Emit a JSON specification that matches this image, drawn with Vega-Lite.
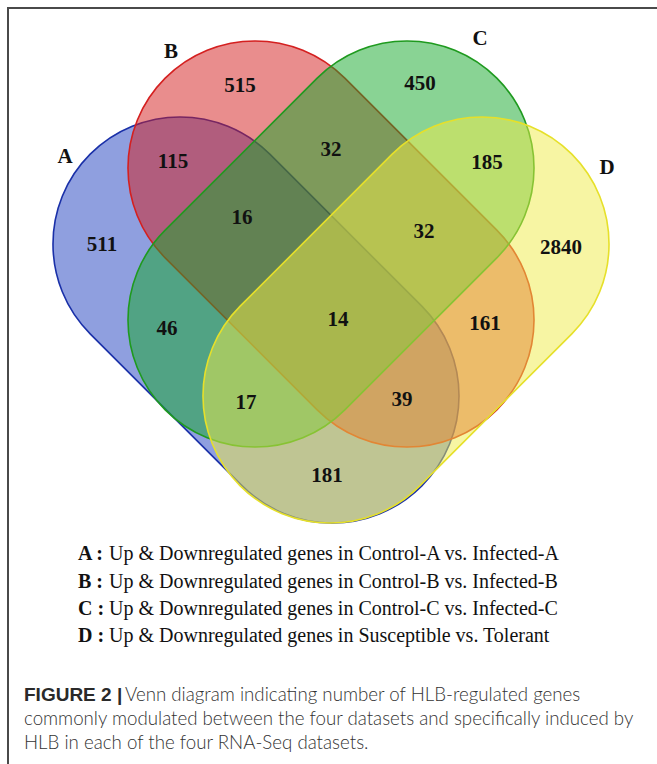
{
  "$schema": "https://vega.github.io/schema/vega-lite/v6.json",
  "width": 657,
  "height": 764,
  "autosize": {"type": "fit", "contains": "padding"},
  "padding": {"left": 8, "top": 8, "right": -4, "bottom": -4},
  "background": "white",
  "config": {"view": {"stroke": "#4a4a4a", "strokeWidth": 2}},
  "datasets": {
    "sets": [
      {"set": "A", "x": 256, "y": 320},
      {"set": "B", "x": 331, "y": 244},
      {"set": "C", "x": 331, "y": 244},
      {"set": "D", "x": 406, "y": 320}
    ],
    "setLabels": [
      {"label": "A", "x": 65, "y": 157},
      {"label": "B", "x": 171, "y": 52},
      {"label": "C", "x": 480, "y": 39},
      {"label": "D", "x": 607, "y": 168}
    ],
    "counts": [
      {"region": "A", "n": 511, "x": 102, "y": 245},
      {"region": "B", "n": 515, "x": 240, "y": 86},
      {"region": "C", "n": 450, "x": 420, "y": 84},
      {"region": "D", "n": 2840, "x": 561, "y": 248},
      {"region": "AB", "n": 115, "x": 173, "y": 162},
      {"region": "BC", "n": 32, "x": 331, "y": 150},
      {"region": "CD", "n": 185, "x": 487, "y": 163},
      {"region": "ABC", "n": 16, "x": 242, "y": 218},
      {"region": "BCD", "n": 32, "x": 424, "y": 232},
      {"region": "AC", "n": 46, "x": 167, "y": 329},
      {"region": "ABCD", "n": 14, "x": 338, "y": 320},
      {"region": "BD", "n": 161, "x": 485, "y": 324},
      {"region": "ACD", "n": 17, "x": 246, "y": 403},
      {"region": "ABD", "n": 39, "x": 402, "y": 400},
      {"region": "AD", "n": 181, "x": 327, "y": 476}
    ],
    "legendKeys": [
      {"text": "A :", "x": 78, "y": 560},
      {"text": "B :", "x": 78, "y": 588},
      {"text": "C :", "x": 78, "y": 615},
      {"text": "D :", "x": 78, "y": 642}
    ],
    "legendText": [
      {"text": "Up & Downregulated genes in Control-A vs. Infected-A", "x": 109, "y": 560},
      {"text": "Up & Downregulated genes in Control-B vs. Infected-B", "x": 109, "y": 588},
      {"text": "Up & Downregulated genes in Control-C vs. Infected-C", "x": 109, "y": 615},
      {"text": "Up & Downregulated genes in Susceptible vs. Tolerant", "x": 109, "y": 642}
    ],
    "captionLead": [
      {"text": "FIGURE 2 |", "x": 24, "y": 701}
    ],
    "caption": [
      {"text": "Venn diagram indicating number of HLB-regulated genes", "x": 125, "y": 701},
      {"text": "commonly modulated between the four datasets and specifically induced by", "x": 24, "y": 725},
      {"text": "HLB in each of the four RNA-Seq datasets.", "x": 24, "y": 749}
    ]
  },
  "encoding": {
    "x": {"field": "x", "type": "quantitative", "scale": {"domain": [8, 661], "nice": false, "zero": false}, "axis": null},
    "y": {"field": "y", "type": "quantitative", "scale": {"domain": [8, 768], "nice": false, "zero": false, "reverse": true}, "axis": null}
  },
  "layer": [
    {
      "data": {"name": "sets"},
      "mark": {"type": "point", "filled": true, "size": 219961, "opacity": 1, "fillOpacity": 0.5, "strokeOpacity": 1, "strokeWidth": 1.6},
      "encoding": {
        "shape": {"field": "set", "type": "nominal", "legend": null, "scale": {"domain": ["A", "B", "C", "D"], "range": [
          "M0.0589,-0.7071L0.7071,-0.0589C0.9186,0.1526,0.9186,0.4955,0.7071,0.7071C0.4955,0.9186,0.1526,0.9186,-0.0589,0.7071L-0.7071,0.0589C-0.9186,-0.1526,-0.9186,-0.4955,-0.7071,-0.7071C-0.4955,-0.9186,-0.1526,-0.9186,0.0589,-0.7071Z",
          "M0.0589,-0.7071L0.7071,-0.0589C0.9186,0.1526,0.9186,0.4955,0.7071,0.7071C0.4955,0.9186,0.1526,0.9186,-0.0589,0.7071L-0.7071,0.0589C-0.9186,-0.1526,-0.9186,-0.4955,-0.7071,-0.7071C-0.4955,-0.9186,-0.1526,-0.9186,0.0589,-0.7071Z",
          "M-0.0589,-0.7071L-0.7071,-0.0589C-0.9186,0.1526,-0.9186,0.4955,-0.7071,0.7071C-0.4955,0.9186,-0.1526,0.9186,0.0589,0.7071L0.7071,0.0589C0.9186,-0.1526,0.9186,-0.4955,0.7071,-0.7071C0.4955,-0.9186,0.1526,-0.9186,-0.0589,-0.7071Z",
          "M-0.0589,-0.7071L-0.7071,-0.0589C-0.9186,0.1526,-0.9186,0.4955,-0.7071,0.7071C-0.4955,0.9186,-0.1526,0.9186,0.0589,0.7071L0.7071,0.0589C0.9186,-0.1526,0.9186,-0.4955,0.7071,-0.7071C0.4955,-0.9186,0.1526,-0.9186,-0.0589,-0.7071Z"
        ]}},
        "fill": {"field": "set", "type": "nominal", "legend": null, "scale": {"domain": ["A", "B", "C", "D"], "range": ["#1f3fbf", "#d41c1c", "#14a82a", "#efeb48"]}},
        "stroke": {"field": "set", "type": "nominal", "legend": null, "scale": {"domain": ["A", "B", "C", "D"], "range": ["#1a30a8", "#d42020", "#1f9a1f", "#e6e02a"]}}
      }
    },
    {
      "data": {"name": "setLabels"},
      "mark": {"type": "text", "font": "Liberation Serif", "fontWeight": "bold", "fontSize": 21, "align": "center", "baseline": "middle", "color": "#111111"},
      "encoding": {"text": {"field": "label", "type": "nominal"}}
    },
    {
      "data": {"name": "counts"},
      "mark": {"type": "text", "font": "Liberation Serif", "fontWeight": "bold", "fontSize": 21, "align": "center", "baseline": "middle", "color": "#111111"},
      "encoding": {"text": {"field": "n", "type": "nominal"}}
    },
    {
      "data": {"name": "legendKeys"},
      "mark": {"type": "text", "font": "Liberation Serif", "fontWeight": "bold", "fontSize": 20, "align": "left", "baseline": "alphabetic", "color": "#111111"},
      "encoding": {"text": {"field": "text", "type": "nominal"}}
    },
    {
      "data": {"name": "legendText"},
      "mark": {"type": "text", "font": "Liberation Serif", "fontSize": 20, "align": "left", "baseline": "alphabetic", "color": "#111111"},
      "encoding": {"text": {"field": "text", "type": "nominal"}}
    },
    {
      "data": {"name": "captionLead"},
      "mark": {"type": "text", "font": "Liberation Sans", "fontWeight": "bold", "fontSize": 19, "align": "left", "baseline": "alphabetic", "color": "#2a2a2a"},
      "encoding": {"text": {"field": "text", "type": "nominal"}}
    },
    {
      "data": {"name": "caption"},
      "mark": {"type": "text", "font": "Lato", "fontWeight": 300, "fontSize": 18.7, "align": "left", "baseline": "alphabetic", "color": "#333333"},
      "encoding": {"text": {"field": "text", "type": "nominal"}}
    }
  ]
}
